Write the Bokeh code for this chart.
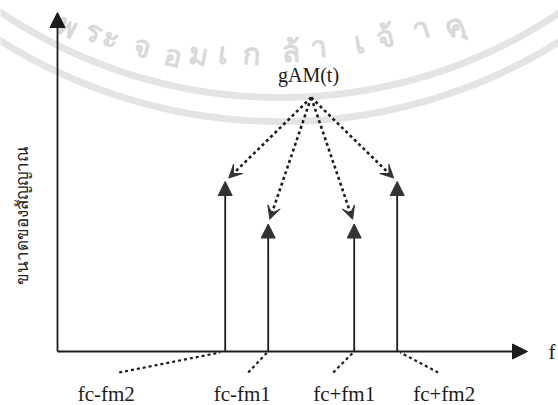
import numpy as np
from bokeh.plotting import figure
from bokeh.models import Range1d, Arrow, NormalHead, VeeHead, ColumnDataSource
from bokeh.core.properties import value
from bokeh.embed import file_html
from bokeh.resources import INLINE

# Spectrum of an AM signal carrying two modulating tones (fm1, fm2)
fc, fm1, fm2 = 5.9, 1.0, 2.0
freq_labels = ["fc-fm2", "fc-fm1", "fc+fm1", "fc+fm2"]
freqs = [fc - fm2, fc - fm1, fc + fm1, fc + fm2]
amplitudes = [1.0, 0.75, 0.75, 1.0]
signal_label = "gAM(t)"
x_title = "f"
y_title = "ขนาดของสัญญาณ"
watermark_glyphs = ["พ", "ร", "ะ", "จ", "อ", "ม", "เ", "ก", "ล้", "า", "เ", "จ้", "า", "คุ"]

# ---- layout (pixels) ----
W, H = 558, 405
X0, Y0 = 57, 351          # pixel position of the origin
PX_F, PX_A = 43.0, 170.0  # pixels per frequency unit / amplitude unit


def dx(px):
    return (px - X0) / PX_F


def dy(py):
    return (Y0 - py) / PX_A


def to_px(f, a):
    return X0 + f * PX_F, Y0 - a * PX_A


INK = "#1c1c1c"
SERIF = value("Liberation Serif")

p = figure(width=W, height=H, output_backend="svg", toolbar_location=None,
           x_range=Range1d(dx(0), dx(W)), y_range=Range1d(dy(H), dy(0)),
           x_axis_location=None, y_axis_location=None, min_border=0,
           outline_line_color=None, background_fill_color="white")
p.grid.visible = False

# ---- faint seal in the background ----
wm_cx, wm_cy = 280, -405
th = np.linspace(-0.75, 0.75, 300)
for r in (502, 526):
    xs = wm_cx + r * np.sin(th)
    ys = wm_cy + r * np.cos(th)
    p.line(dx(xs), dy(ys), line_color="#e4e4e4", line_width=7)

wm_pos = [(68, 25), (93, 30), (111, 36), (142, 45), (173, 54), (198, 53), (223, 52),
          (251, 53), (290, 50), (318, 45), (358, 41), (385, 35), (420, 27), (453, 24)]
wm_x = [dx(a) for a, b in wm_pos]
wm_y = [dy(b) for a, b in wm_pos]
wm_ang = [np.arctan2(a - wm_cx, b - wm_cy) for a, b in wm_pos]
p.text(x=wm_x, y=wm_y, text=watermark_glyphs, angle=wm_ang,
       text_align="center", text_baseline="middle", text_font=value("Noto Sans"),
       text_font_style="bold", text_font_size="30px", text_color="#d9d9d9")

# ---- axes drawn as arrows ----
p.add_layout(Arrow(x_start=0, y_start=0, x_end=dx(527), y_end=0,
                   line_color=INK, line_width=1.8,
                   end=NormalHead(size=15, fill_color=INK, line_color=INK)))
p.add_layout(Arrow(x_start=0, y_start=0, x_end=0, y_end=dy(12),
                   line_color=INK, line_width=1.8,
                   end=NormalHead(size=15, fill_color=INK, line_color=INK)))
p.text(x=[dx(548)], y=[0], text=[x_title], text_font=SERIF, text_font_size="21px",
       text_align="left", text_baseline="middle", text_color=INK)
p.text(x=[dx(21)], y=[dy(215)], text=[y_title], angle=np.pi / 2,
       text_font=value("Noto Sans"), text_font_size="17px",
       text_align="center", text_baseline="middle", text_color="#222222")

# ---- spectral lines ----
lines = ColumnDataSource(dict(x0=freqs, y0=[0] * 4, x1=freqs, y1=amplitudes))
p.add_layout(Arrow(source=lines, x_start="x0", y_start="y0", x_end="x1", y_end="y1",
                   line_color=INK, line_width=1.8,
                   end=NormalHead(size=14, fill_color="#333333", line_color="#333333")))

# ---- pointers from the signal name to every component ----
ptr_f, ptr_a = fc, dy(97)
ox, oy = to_px(ptr_f, ptr_a)
ex, ey = [], []
for f, a in zip(freqs, amplitudes):
    tx, ty = to_px(f, a)
    vx, vy = ox - tx, oy - ty
    n = np.hypot(vx, vy)
    ex.append(dx(tx + 5 * vx / n))
    ey.append(dy(ty + 5 * vy / n))
ptr = ColumnDataSource(dict(x0=[ptr_f] * 4, y0=[ptr_a] * 4, x1=ex, y1=ey))
p.add_layout(Arrow(source=ptr, x_start="x0", y_start="y0", x_end="x1", y_end="y1",
                   line_color=INK, line_width=2.6, line_dash="3 3",
                   end=VeeHead(size=13, fill_color="#333333", line_color="#333333")))
p.text(x=[dx(308)], y=[dy(74)], text=[signal_label], text_font=SERIF,
       text_font_size="20px", text_align="center", text_baseline="middle",
       text_color=INK)

# ---- frequency labels with dotted leaders ----
lead_start = [-106, -20, -21, 41]
lead_end = [-5, -1, -1, 3]
lab_off = [-119, -26, -10, 47]
p.segment(x0=[f + s / PX_F for f, s in zip(freqs, lead_start)], y0=[dy(372)] * 4,
          x1=[f + e / PX_F for f, e in zip(freqs, lead_end)], y1=[dy(352)] * 4,
          line_color=INK, line_width=2.2, line_dash="3 3")
p.text(x=[f + o / PX_F for f, o in zip(freqs, lab_off)], y=[dy(393)] * 4,
       text=freq_labels, text_font=SERIF, text_font_size="21px",
       text_align="center", text_baseline="middle", text_color=INK)

open("out.html", "w").write(file_html(p, INLINE))
